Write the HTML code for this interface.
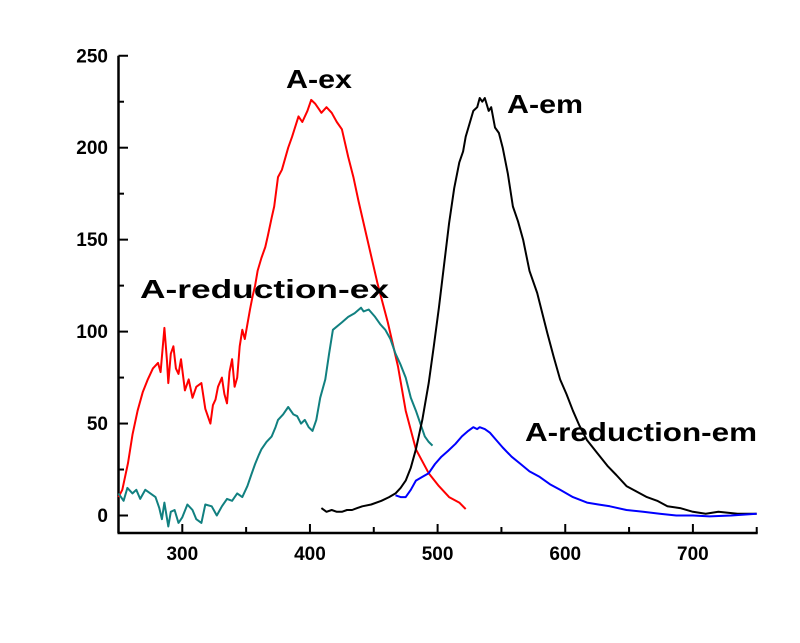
<!DOCTYPE html>
<html><head><meta charset="utf-8"><style>
html,body{margin:0;padding:0;background:#fff;}
svg{display:block;font-family:"Liberation Sans",Arial,sans-serif;font-weight:bold;}
</style></head><body>
<svg id="chart" width="800" height="643" viewBox="0 0 800 643">
<g id="axes"></g>
<g id="series"></g>
<g id="labels">
<text x="286" y="88" font-size="26" textLength="66" lengthAdjust="spacingAndGlyphs">A-ex</text>
<text x="507" y="113" font-size="26" textLength="76" lengthAdjust="spacingAndGlyphs">A-em</text>
<text x="140" y="298" font-size="26" textLength="249" lengthAdjust="spacingAndGlyphs">A-reduction-ex</text>
<text x="525" y="441" font-size="26" textLength="232" lengthAdjust="spacingAndGlyphs">A-reduction-em</text>
</g>
</svg>
<script>
const xTicks=[300,400,500,600,700];
const xMinor=[350,450,550,650,750];
const yTicks=[0,50,100,150,200,250];
const yMinor=[25,75,125,175,225];
const exX=[250,253,257.5,261,265,269,273,277,281,283,286,288,289,291,293,295,297,299,302,305,308,311,315,318,322,324,326,328,331,333,335,337,339,341,343,345,347,349,351,353,355,357,359,362,365,367,370,372,375,378,383,386,391,394,398,401,404,407,409,413,417,421,425,430,434,438,445,453,461,469,475,483,493,501,509,517,522];
const exY=[10,14,28.5,44,57,67,74,80,83,78,102,84,72,88,92,80,77,85,68,74,64,70,72,58,50,60,63,70,75,66,61,78,85,70,75,92,101,96,104,112,119,125,133,140,146,152,162,168,184,188,200,206,217,214,220,226,224,221,219,222,219,214,210,195,184,171,150,126,105,81,57,36,23,16,10,7,3.5];
const redExX=[250,254,257,261,264,267,271,275,279,282,284,286,289,291,294,297,300,304,308,311,315,318,323,327,331,335,339,343,347,351,354,357,360,362,366,370,373,375,379,383,387,390,393,396,399,402,405,408,412,415,418,425,430,435,440,442,446,451,455,459,463,467,471,475,479,483,487,490,493,496];
const redExY=[12,8,15,12,14,9,14,12,10,4,-2,7,-6,2,3,-4,-1,6,3,-2,-4,6,5,0,5,9,8,12,10,16,22,28,33,36,40,43,48,52,55,59,55,54,50,52,48,46,52,64,74,88,101,105,108,110,113,111,112,108,104,101,96,88,82,75,64,57,49,43,40,38];
const emX=[409,413,417,421,425,429,433,437,441,448,456,462,467,471,475,479,483,488,493,497,501,505,509,513,517,520,522,525,528,531,533,535,537,540,542,545,548,551,555,559,563,567,572,578,582,586,591,596,601,606,611,617,625,633,640,648,656,664,672,680,690,700,710,720,735,750];
const emY=[4,2,3,2,2,3,3,4,5,6,8,10,12,15,19,26,36,52,72,92,113,136,159,178,192,198,206,213,220,222,227,225,227,220,222,211,208,200,186,168,160,150,133,121,110,99,86,74,66,57,49,41,34,27,22,16,13,10,8,5,4,2,1,2,1,1];
const redEmX=[467,471,475,479,483,488,493,498,503,508,514,519,524,528,531,533,537,541,546,551,558,565,572,580,588,596,606,617,626,635,648,661,674,687,700,713,730,750];
const redEmY=[11,10,10,14,19,21,23,28,32,35,39,43,46,48,47,48,47,45,41,37,32,28,24,21,17,14,10,7,6,5,3,2,1,0,0,-0.5,0,1];

const X=v=>182.3+(v-300)*1.2765;
const Y=v=>515.5-v*1.839;
const NS="http://www.w3.org/2000/svg";
const axes=document.getElementById('axes');
const series=document.getElementById('series');
function mk(tag,attrs,parent){const e=document.createElementNS(NS,tag);for(const k in attrs)e.setAttribute(k,attrs[k]);parent.appendChild(e);return e;}

const yAxis=mk('line',{x1:118.5,y1:Y(250),x2:118.5,y2:533,stroke:'#000','stroke-width':2.5},axes);


const xAxis=mk('line',{x1:117.5,y1:533,x2:X(750)+1,y2:533,stroke:'#000','stroke-width':2.5},axes);



yTicks.forEach(v=>{
  const t=mk('line',{x1:118.5,y1:Y(v),x2:128,y2:Y(v),stroke:'#000','stroke-width':2},axes);
  
  
  const l=mk('text',{x:108,y:Y(v)+6.5,'font-size':19,'text-anchor':'end'},axes);
  l.textContent=v;
  
  
});
yMinor.forEach(v=>{
  const t=mk('line',{x1:118.5,y1:Y(v),x2:124,y2:Y(v),stroke:'#000','stroke-width':2},axes);
  
  
});
xTicks.forEach(v=>{
  const t=mk('line',{x1:X(v),y1:533,x2:X(v),y2:524,stroke:'#000','stroke-width':2},axes);
  
  
  const l=mk('text',{x:X(v),y:560,'font-size':19,'text-anchor':'middle'},axes);
  l.textContent=v;
  
  
});
xMinor.forEach(v=>{
  const t=mk('line',{x1:X(v),y1:533,x2:X(v),y2:527,stroke:'#000','stroke-width':2},axes);
  
  
});

function line(xs,ys,color,name){
  const d=xs.map((x,i)=>(i?'L':'M')+X(x).toFixed(1)+','+Y(ys[i]).toFixed(1)).join('');
  const p=mk('path',{d:d,fill:'none',stroke:color,'stroke-width':2,'stroke-linejoin':'round'},series);
  
  
}
line(exX,exY,'#f00','line-a-ex');
line(redExX,redExY,'#118080','line-a-reduction-ex');
line(emX,emY,'#000','line-a-em');
line(redEmX,redEmY,'#00f','line-a-reduction-em');
</script>
</body></html>
